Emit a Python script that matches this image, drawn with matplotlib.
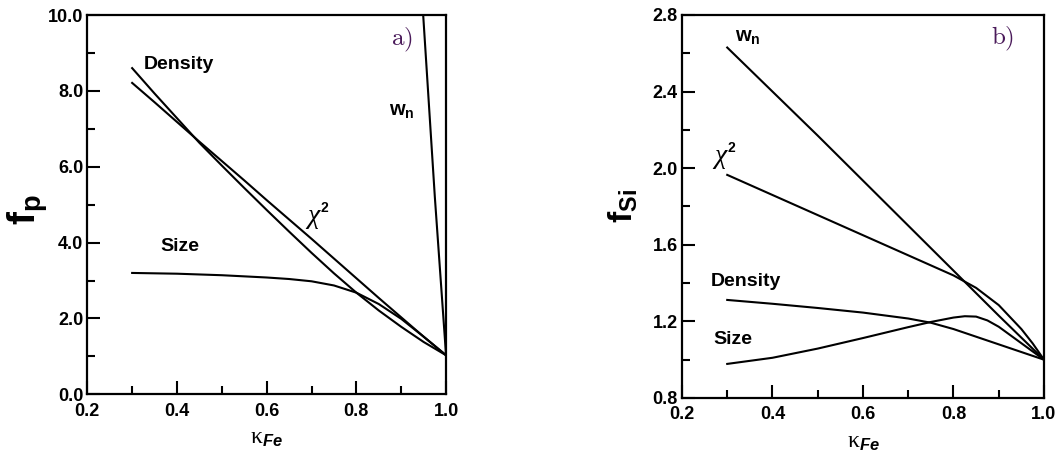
import matplotlib.pyplot as plt
from matplotlib.ticker import MultipleLocator, FormatStrFormatter

plt.rcParams['font.family'] = ['Liberation Sans', 'DejaVu Sans']
plt.rcParams['mathtext.fontset'] = 'custom'
plt.rcParams['mathtext.rm'] = 'Liberation Sans:bold'
plt.rcParams['mathtext.it'] = 'Liberation Sans:italic:bold'
plt.rcParams['mathtext.bf'] = 'Liberation Sans:bold'

# Panel a) : f_p vs kappa_Fe
x_a = [0.30, 0.35, 0.40, 0.45, 0.50, 0.55, 0.60, 0.65, 0.70, 0.75, 0.80, 0.85, 0.90, 0.95, 1.00]
density_a = [8.60, 7.93, 7.28, 6.63, 6.03, 5.44, 4.86, 4.29, 3.73, 3.19, 2.68, 2.21, 1.78, 1.38, 1.03]
chi2_a = [8.21, 7.70, 7.18, 6.66, 6.15, 5.64, 5.12, 4.61, 4.10, 3.58, 3.06, 2.54, 2.03, 1.52, 1.03]
size_a = [3.20, 3.19, 3.18, 3.16, 3.14, 3.11, 3.08, 3.04, 2.98, 2.87, 2.68, 2.38, 1.99, 1.52, 1.03]
wn_x_a = [0.949, 0.975, 1.00]
wn_a = [10.0, 5.2, 1.03]

# Panel b) : f_Si vs kappa_Fe
wn_x_b = [0.30, 0.50, 0.70, 0.90, 1.00]
wn_b = [2.63, 2.17, 1.70, 1.23, 1.00]
chi2_x_b = [0.30, 0.40, 0.50, 0.60, 0.70, 0.80, 0.85, 0.90, 0.95, 0.975, 1.00]
chi2_b = [1.965, 1.860, 1.755, 1.650, 1.545, 1.440, 1.375, 1.285, 1.160, 1.085, 1.00]
density_x_b = [0.30, 0.40, 0.50, 0.60, 0.70, 0.75, 0.80, 0.85, 0.90, 0.95, 1.00]
density_b = [1.312, 1.292, 1.270, 1.246, 1.215, 1.193, 1.160, 1.120, 1.080, 1.040, 1.00]
size_x_b = [0.30, 0.40, 0.50, 0.60, 0.70, 0.75, 0.80, 0.825, 0.85, 0.875, 0.90, 0.95, 1.00]
size_b = [0.978, 1.010, 1.058, 1.113, 1.170, 1.197, 1.220, 1.227, 1.225, 1.205, 1.172, 1.086, 1.00]

LW = 1.5


def style_axes(ax, ymin, ymax, ymajor, yminor):
    ax.set_xlim(0.2, 1.0)
    ax.set_ylim(ymin, ymax)
    ax.xaxis.set_major_locator(MultipleLocator(0.2))
    ax.xaxis.set_minor_locator(MultipleLocator(0.1))
    ax.yaxis.set_major_locator(MultipleLocator(ymajor))
    ax.yaxis.set_minor_locator(MultipleLocator(yminor))
    ax.xaxis.set_major_formatter(FormatStrFormatter('%.1f'))
    ax.yaxis.set_major_formatter(FormatStrFormatter('%.1f'))
    ax.tick_params(which='both', direction='in', width=1.5, top=False, right=False)
    ax.tick_params(which='major', length=9.5, labelsize=13)
    ax.tick_params(which='minor', length=5.5)
    ax.tick_params(axis='x', pad=6)
    ax.tick_params(axis='y', pad=3)
    for lab in ax.get_xticklabels() + ax.get_yticklabels():
        lab.set_fontweight('bold')
    for sp in ax.spines.values():
        sp.set_linewidth(1.6)


def chi2_label(ax, x, y):
    # chi plus a small bold superscript 2
    ax.text(x, y, 'χ', fontsize=20, family=['Liberation Serif'], style='italic',
            ha='center', va='center')
    ax.annotate('2', xy=(x, y), xytext=(8, 6), textcoords='offset points',
                fontsize=10, fontweight='bold', ha='center', va='center')


fig = plt.figure(figsize=(10.57, 4.65), dpi=100)
ax1 = fig.add_axes([0.0826, 0.152, 0.3394, 0.8157])
ax2 = fig.add_axes([0.6452, 0.1441, 0.3425, 0.8237])

# ---- a)
ax1.plot(x_a, density_a, 'k-', lw=LW)
ax1.plot(x_a, chi2_a, 'k-', lw=LW)
ax1.plot(x_a, size_a, 'k-', lw=LW)
ax1.plot(wn_x_a, wn_a, 'k-', lw=LW)
style_axes(ax1, 0, 10, 2, 1)

ax1.text(0.404, 8.69, 'Density', fontsize=14, fontweight='bold', ha='center', va='center')
ax1.text(0.406, 3.89, 'Size', fontsize=14, fontweight='bold', ha='center', va='center')
chi2_label(ax1, 0.703, 4.70)
ax1.text(0.901, 7.45, 'w$_{\\mathrm{n}}$', fontsize=14.5, fontweight='bold', ha='center', va='center')
ax1.text(0.901, 9.35, r'$\mathrm{a)}$', fontsize=18, math_fontfamily='cm', color='#4a1a5a',
         ha='center', va='center')

ax1.set_ylabel('f$_{\\mathrm{p}}$', fontsize=28, fontweight='bold')
ax1.yaxis.set_label_coords(-0.104, 0.486)
ax1.set_xlabel('κ$_{\\mathit{Fe}}$', fontsize=17, family=['Liberation Serif'])
ax1.xaxis.set_label_coords(0.5, -0.089)

# ---- b)
ax2.plot(wn_x_b, wn_b, 'k-', lw=LW)
ax2.plot(chi2_x_b, chi2_b, 'k-', lw=LW)
ax2.plot(density_x_b, density_b, 'k-', lw=LW)
ax2.plot(size_x_b, size_b, 'k-', lw=LW)
style_axes(ax2, 0.8, 2.8, 0.4, 0.2)

ax2.text(0.317, 2.68, 'w$_{\\mathrm{n}}$', fontsize=14.5, fontweight='bold', ha='left', va='center')
chi2_label(ax2, 0.284, 2.06)
ax2.text(0.341, 1.406, 'Density', fontsize=14, fontweight='bold', ha='center', va='center')
ax2.text(0.313, 1.103, 'Size', fontsize=14, fontweight='bold', ha='center', va='center')
ax2.text(0.909, 2.675, r'$\mathrm{b)}$', fontsize=18, math_fontfamily='cm', color='#4a1a5a',
         ha='center', va='center')

ax2.set_ylabel('f$_{\\mathrm{Si}}$', fontsize=24, fontweight='bold')
ax2.yaxis.set_label_coords(-0.116, 0.501)
ax2.set_xlabel('κ$_{\\mathit{Fe}}$', fontsize=17, family=['Liberation Serif'])
ax2.xaxis.set_label_coords(0.5, -0.089)

plt.savefig('out.png', dpi=100)
